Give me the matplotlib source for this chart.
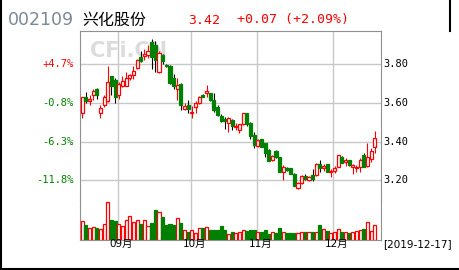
import matplotlib
matplotlib.use("Agg")
import matplotlib.pyplot as plt
from matplotlib.lines import Line2D

# daily K-line, 2019-08-19 .. 2019-12-17 (Aug / Sep / Oct / Nov / Dec rows)
opens = [
    3.55, 3.63, 3.61, 3.64, 3.67, 3.55, 3.59, 3.61, 3.74, 3.72,
    3.64, 3.69, 3.69, 3.73, 3.745, 3.78, 3.835, 3.845, 3.85, 3.915,
    3.90, 3.76, 3.85, 3.795, 3.79, 3.73, 3.67, 3.70, 3.57, 3.59,
    3.548, 3.58, 3.60, 3.64, 3.653, 3.65, 3.616, 3.58, 3.533, 3.515,
    3.498, 3.512, 3.478, 3.46, 3.489, 3.547, 3.498, 3.434,
    3.379, 3.412, 3.391, 3.357, 3.305, 3.353, 3.319, 3.243, 3.262, 3.262,
    3.233, 3.159, 3.184, 3.222, 3.202, 3.228, 3.228, 3.284, 3.262, 3.284, 3.245,
    3.250, 3.271, 3.319, 3.297, 3.305, 3.267, 3.265, 3.267, 3.331, 3.274, 3.309, 3.371,
]
highs = [
    3.63, 3.655, 3.64, 3.67, 3.675, 3.59, 3.64, 3.79, 3.74, 3.73,
    3.71, 3.74, 3.76, 3.75, 3.79, 3.825, 3.87, 3.88, 3.90, 3.93,
    3.92, 3.87, 3.855, 3.80, 3.795, 3.75, 3.73, 3.705, 3.60, 3.615,
    3.585, 3.61, 3.635, 3.645, 3.693, 3.652, 3.65, 3.59, 3.545, 3.526,
    3.526, 3.515, 3.495, 3.49, 3.548, 3.548, 3.50, 3.452,
    3.412, 3.415, 3.395, 3.36, 3.33, 3.355, 3.32, 3.279, 3.267, 3.265,
    3.236, 3.19, 3.225, 3.23, 3.222, 3.257, 3.288, 3.305, 3.284, 3.286, 3.257,
    3.274, 3.333, 3.326, 3.314, 3.307, 3.284, 3.279, 3.314, 3.34, 3.391, 3.365, 3.457,
]
lows = [
    3.52, 3.60, 3.59, 3.615, 3.62, 3.52, 3.58, 3.605, 3.64, 3.60,
    3.62, 3.68, 3.685, 3.72, 3.725, 3.775, 3.81, 3.82, 3.83, 3.775,
    3.76, 3.755, 3.80, 3.785, 3.70, 3.67, 3.615, 3.565, 3.565, 3.55,
    3.52, 3.55, 3.595, 3.63, 3.633, 3.612, 3.555, 3.533, 3.50, 3.464,
    3.45, 3.46, 3.46, 3.445, 3.485, 3.48, 3.415, 3.366,
    3.37, 3.37, 3.319, 3.30, 3.30, 3.315, 3.243, 3.202, 3.25, 3.23,
    3.17, 3.155, 3.18, 3.20, 3.195, 3.198, 3.22, 3.245, 3.25, 3.243, 3.219,
    3.240, 3.268, 3.288, 3.274, 3.276, 3.233, 3.243, 3.243, 3.267, 3.267, 3.297, 3.343,
]
closes = [
    3.63, 3.61, 3.62, 3.66, 3.64, 3.575, 3.63, 3.71, 3.685, 3.63,
    3.70, 3.715, 3.73, 3.745, 3.765, 3.82, 3.815, 3.855, 3.87, 3.84,
    3.82, 3.86, 3.815, 3.79, 3.705, 3.69, 3.695, 3.59, 3.585, 3.57,
    3.555, 3.60, 3.63, 3.633, 3.66, 3.616, 3.564, 3.538, 3.507, 3.505,
    3.521, 3.481, 3.482, 3.489, 3.547, 3.491, 3.429, 3.383,
    3.409, 3.374, 3.343, 3.302, 3.326, 3.319, 3.245, 3.267, 3.253, 3.233,
    3.171, 3.184, 3.222, 3.205, 3.216, 3.205, 3.284, 3.262, 3.274, 3.245, 3.250,
    3.262, 3.331, 3.291, 3.305, 3.278, 3.279, 3.270, 3.305, 3.271, 3.319, 3.35, 3.42,
]
volumes = [
    58, 45, 37, 39, 37, 33, 49, 115, 59, 57,
    47, 43, 59, 71, 53, 61, 49, 59, 41, 51,
    89, 83, 69, 45, 47, 45, 65, 51, 29, 23,
    29, 21, 37, 37, 39, 29, 31, 31, 43, 29,
    19, 25, 21, 25, 31, 27, 31, 29,
    25, 25, 31, 19, 25, 21, 35, 25, 21, 21,
    21, 21, 23, 25, 25, 25, 25, 45, 33, 27, 21,
    25, 33, 25, 25, 21, 25, 28, 30, 33, 55, 28, 46,
]

month_labels = ["09月", "10月", "11月", "12月"]
month_starts = [10, 30, 48, 69]
price_ticks = [3.20, 3.40, 3.60, 3.80]

code = "002109"
name = "兴化股份"
last_date = "2019-12-17"

RED = "#ff0000"
GREEN = "#008000"
GRID = "#c8c8c8"
W, H = 460, 270


def fx(px):
    return px / W


def fy(py):
    return 1 - py / H


fig = plt.figure(figsize=(4.6, 2.7), dpi=100)
fig.patch.set_facecolor("white")

ax = fig.add_axes([fx(80), fy(200), fx(381) - fx(80), fy(31) - fy(200)])
axv = fig.add_axes([fx(80), fy(240), fx(381) - fx(80), fy(200) - fy(240)], sharex=ax)

n = len(closes)
xs = list(range(n))
up = [c >= o for o, c in zip(opens, closes)]

# price candles
for i in xs:
    col = RED if up[i] else "black"
    ax.vlines(i, lows[i], highs[i], colors=col, lw=0.8, zorder=3)
for i in xs:
    lo = min(opens[i], closes[i])
    hgt = abs(closes[i] - opens[i])
    if up[i]:
        ax.bar(i, hgt, bottom=lo, width=0.85, facecolor="white", edgecolor=RED,
               linewidth=0.9, zorder=4)
    else:
        ax.bar(i, hgt, bottom=lo, width=0.85, facecolor=GREEN, edgecolor=GREEN,
               linewidth=0.9, zorder=4)

# volume bars
for i in xs:
    if up[i]:
        axv.bar(i, volumes[i], width=0.85, facecolor="white", edgecolor=RED,
                linewidth=0.9, zorder=3)
    else:
        axv.bar(i, volumes[i], width=0.85, facecolor=GREEN, edgecolor=GREEN,
                linewidth=0.9, zorder=3)

ax.set_xlim(-0.6, 81.7)
ax.set_ylim(3.098, 3.972)
axv.set_ylim(0, 120)

for p in price_ticks:
    ax.axhline(p, color=GRID, lw=1, zorder=1)
for s in month_starts:
    ax.axvline(s - 0.3, color=GRID, lw=1, zorder=1)
    axv.axvline(s - 0.3, color=GRID, lw=1, zorder=1)

for a in (ax, axv):
    a.set_xticks([])
    a.set_yticks([])
    for sp in a.spines.values():
        sp.set_color("#909090")
        sp.set_linewidth(0.8)
ax.spines["bottom"].set_visible(False)
axv.spines["top"].set_visible(False)

# axis labels
base = closes[0]
mono = "DejaVu Sans Mono"
for p in price_ticks:
    pct = (p / base - 1) * 100
    ax.text(82.2, p, "%.2f" % p, fontsize=7.5, family=mono, color="black",
            va="center", ha="left")
    ax.text(-2.4, p, "%+.1f%%" % pct, fontsize=7.5, family=mono,
            color=RED if pct > 0 else GREEN, va="center", ha="right")

for s, lab in zip(month_starts, month_labels):
    axv.text(s + 0.7, -12, lab, fontsize=7.5, family=["DejaVu Sans", "Noto Sans CJK SC"],
             ha="center", va="center")
axv.text(82.2, -12, "[" + last_date + "]", fontsize=7.5, family="DejaVu Sans",
         ha="left", va="center")

# watermark
ax.text(2.2, 3.87, "CFi.CN", fontsize=15, fontweight="bold", color="#dcdcdc",
        family="DejaVu Sans", va="center", ha="left", zorder=2)

# header
chg = closes[-1] - closes[-2]
fig.text(fx(8), fy(20), code, fontsize=12.5, color="#7d8795", family="DejaVu Sans",
         va="center", ha="left")
fig.text(fx(82), fy(20), name, fontsize=11.5, color="black", family="Noto Sans CJK SC",
         va="center", ha="left")
fig.text(fx(188), fy(20), "%.2f" % closes[-1], fontsize=9.5, color=RED, family=mono,
         va="center", ha="left")
fig.text(fx(237), fy(20), "%+.2f (%+.2f%%)" % (chg, chg / closes[-2] * 100), fontsize=9.5,
         color=RED, family=mono, va="center", ha="left")

# outer frame
fig.add_artist(Line2D([fx(0.5), fx(0.5)], [0, 1], color="black", lw=1.5))
fig.add_artist(Line2D([0, 1], [fy(268.5), fy(268.5)], color="black", lw=1.5))
fig.add_artist(Line2D([fx(450.5), fx(450.5)], [fy(31), 1], color="black", lw=1.5))

fig.savefig("out.png", dpi=100)
